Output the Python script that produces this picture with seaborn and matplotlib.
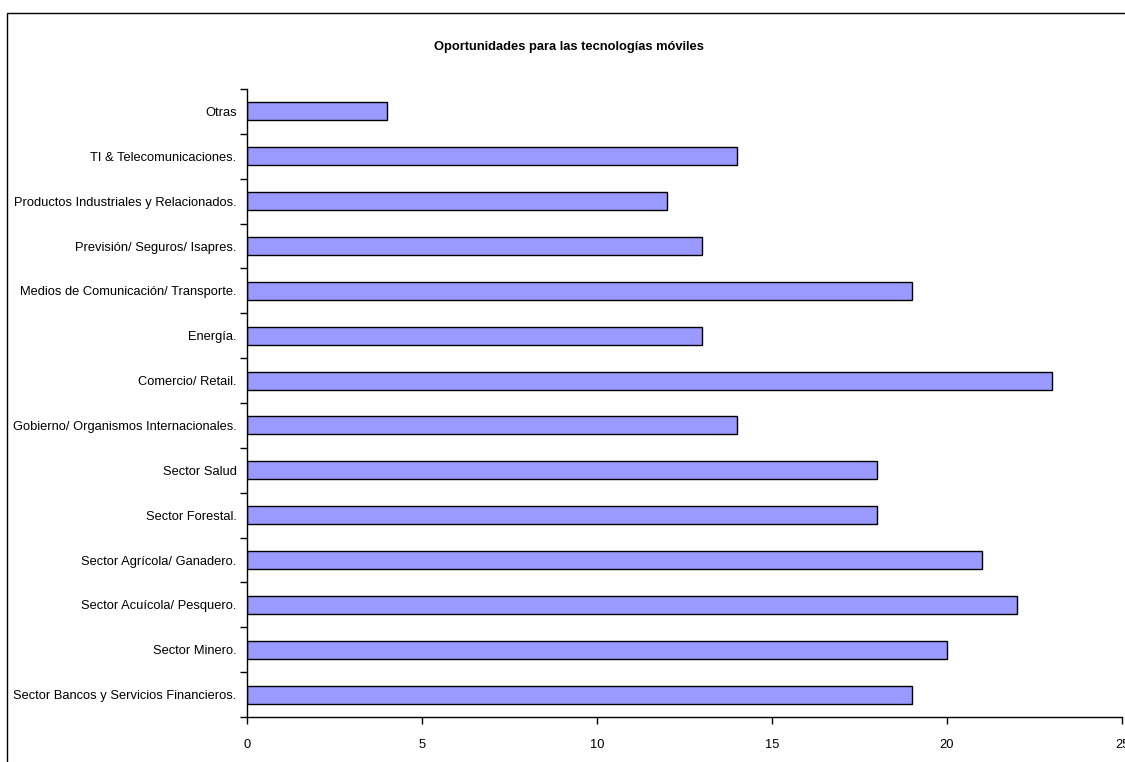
import matplotlib
matplotlib.use("Agg")
import matplotlib.pyplot as plt
import matplotlib.patches as mpatches
from matplotlib.ticker import FixedLocator
import seaborn as sns
import pandas as pd

# Sectors listed top to bottom as they appear on the chart
sectores = [
    "Otras",
    "TI & Telecomunicaciones.",
    "Productos Industriales y Relacionados.",
    "Previsión/ Seguros/ Isapres.",
    "Medios de Comunicación/ Transporte.",
    "Energía.",
    "Comercio/ Retail.",
    "Gobierno/ Organismos Internacionales.",
    "Sector Salud",
    "Sector Forestal.",
    "Sector Agrícola/ Ganadero.",
    "Sector Acuícola/ Pesquero.",
    "Sector Minero.",
    "Sector Bancos y Servicios Financieros.",
]
menciones = [4, 14, 12, 13, 19, 13, 23, 14, 18, 18, 21, 22, 20, 19]
x_ticks = [0, 5, 10, 15, 20, 25]
titulo = "Oportunidades para las tecnologías móviles"

sns.set_theme(style="white")
plt.rcParams["font.family"] = ["Liberation Sans", "DejaVu Sans"]

df = pd.DataFrame({"sector": sectores, "valor": menciones})

W, H = 1125, 762
FS = 9.3
fig = plt.figure(figsize=(W / 100, H / 100), dpi=100)
ax = fig.add_axes([247 / W, 1 - 717 / H, (1122 - 247) / W, (717 - 89) / H])

sns.barplot(data=df, x="valor", y="sector", orient="h", color="#9999FF",
            saturation=1, edgecolor="black", linewidth=1.0, width=0.4, ax=ax)

ax.set_xlim(0, 25)
ax.set_ylim(len(sectores) - 0.5, -0.5)
ax.set_xlabel("")
ax.set_ylabel("")
ax.set_xticks(x_ticks)
ax.set_xticklabels([str(t) for t in x_ticks], fontsize=FS)
ax.tick_params(axis="x", direction="out", length=5, width=1, color="black",
               bottom=True, pad=11, labelcolor="black")
ax.tick_params(axis="y", which="major", length=0, pad=7.5, labelsize=FS,
               labelcolor="black")
ax.yaxis.set_minor_locator(FixedLocator([i - 0.5 for i in range(len(sectores) + 1)]))
ax.tick_params(axis="y", which="minor", direction="out", length=5, width=1,
               color="black", left=True)

for s in ["top", "right"]:
    ax.spines[s].set_visible(False)
for s in ["left", "bottom"]:
    ax.spines[s].set_color("black")
    ax.spines[s].set_linewidth(1.0)

fig.text(569 / W, 1 - 47 / H, titulo, ha="center", va="center",
         fontsize=FS, fontweight="bold", color="black")

# Outer chart frame
frame = mpatches.Rectangle((7 / W, -0.1), 1.2, 1 - 13 / H + 0.1,
                           transform=fig.transFigure, fill=False,
                           edgecolor="black", linewidth=1.0, clip_on=False)
fig.patches.append(frame)

fig.savefig("out.png", dpi=100, facecolor="white")
